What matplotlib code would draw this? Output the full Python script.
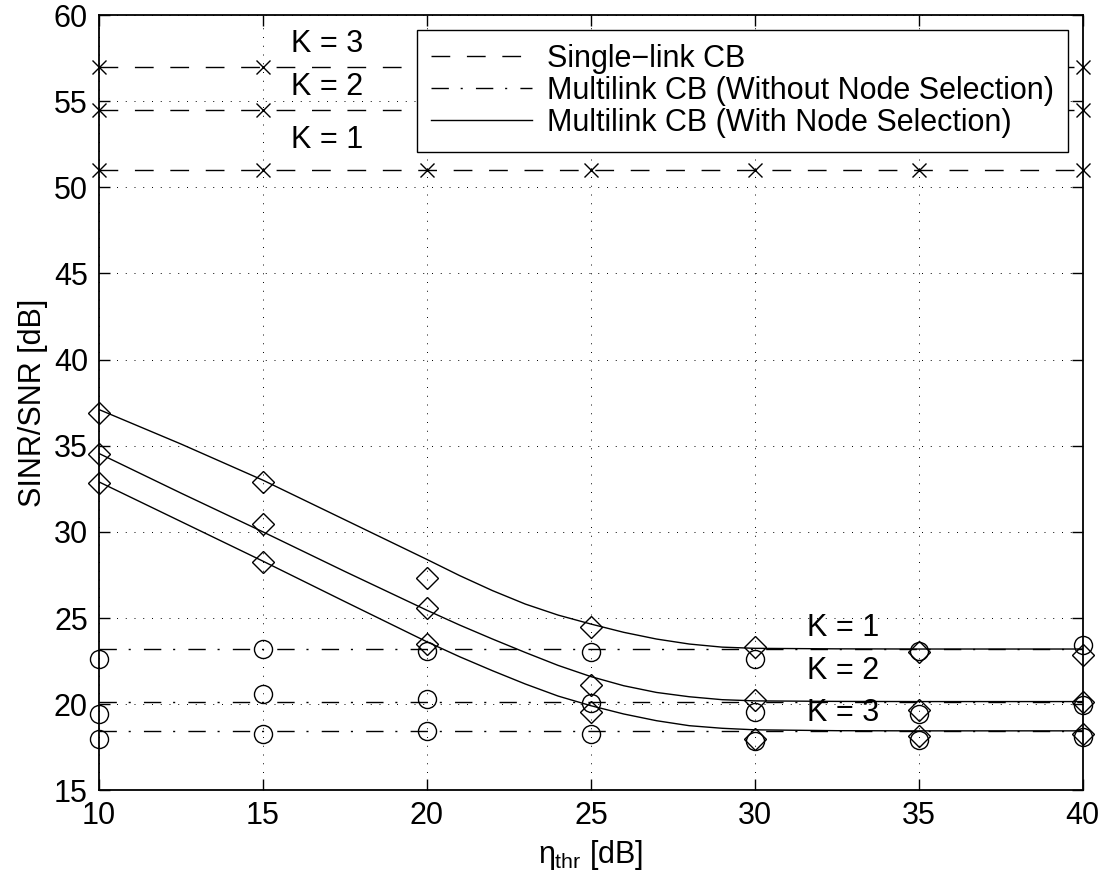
import matplotlib
matplotlib.use('Agg')
import matplotlib.pyplot as plt

plt.rcParams['font.family'] = ['Liberation Sans', 'DejaVu Sans']
plt.rcParams['mathtext.fontset'] = 'custom'
plt.rcParams['mathtext.rm'] = 'Liberation Sans'
plt.rcParams['mathtext.it'] = 'Liberation Sans'

# simulated threshold points [dB]
eta = [10, 15, 20, 25, 30, 35, 40]

# single-link CB level for K = 1, 2, 3
k_values = [1, 2, 3]
single_link = [51.0, 54.5, 57.0]

# multilink CB without node selection: analytic level and simulated points
no_sel_level = [23.2, 20.15, 18.45]
no_sel_sim_k1 = [22.65, 23.2, 23.08, 23.0, 22.6, 23.1, 23.45]
no_sel_sim_k2 = [19.45, 20.6, 20.3, 20.05, 19.55, 19.4, 19.95]
no_sel_sim_k3 = [18.0, 18.25, 18.42, 18.28, 17.85, 17.9, 18.1]

# multilink CB with node selection: analytic curve and simulated points
eta_curve = [10, 12.5, 15, 17.5, 20, 21, 22, 23, 24, 25, 26, 27, 28, 29, 30, 32.5, 35, 37.5, 40]
sel_curve_k1 = [37.1, 35.1, 33.0, 30.7, 28.4, 27.46, 26.59, 25.81, 25.17, 24.65, 24.17, 23.78, 23.49, 23.31, 23.24, 23.21, 23.2, 23.2, 23.2]
sel_curve_k2 = [34.55, 32.25, 30.0, 27.7, 25.45, 24.59, 23.78, 23.0, 22.25, 21.6, 21.07, 20.68, 20.43, 20.26, 20.19, 20.16, 20.15, 20.15, 20.15]
sel_curve_k3 = [32.9, 30.6, 28.3, 25.95, 23.62, 22.75, 21.94, 21.17, 20.47, 19.91, 19.43, 19.04, 18.75, 18.6, 18.51, 18.46, 18.45, 18.45, 18.45]
sel_sim_k1 = [36.9, 32.9, 27.3, 24.5, 23.3, 23.05, 22.85]
sel_sim_k2 = [34.5, 30.45, 25.6, 21.1, 20.25, 19.65, 20.1]
sel_sim_k3 = [32.85, 28.25, 23.5, 19.55, 18.0, 18.15, 18.25]

FS = 22
dashed = (0, (13.5, 12))
dashdot = (0, (12.5, 8.5, 1.5, 9.5))

fig = plt.figure(figsize=(11.06, 8.84), dpi=100)
ax = fig.add_axes([0.0895, 0.106, 0.8895, 0.877])

handles = []
for i, level in enumerate(single_link):
    h, = ax.plot([eta[0], eta[-1]], [level, level], color='k', lw=1.0, linestyle=dashed)
    ax.plot(eta, [level] * len(eta), linestyle='none', marker='x', ms=10, mew=1.0,
            color='k', clip_on=False)
handles.append(h)

for level in no_sel_level:
    h, = ax.plot([eta[0], eta[-1]], [level, level], color='k', lw=1.0, linestyle=dashdot)
handles.append(h)

for curve in [sel_curve_k1, sel_curve_k2, sel_curve_k3]:
    h, = ax.plot(eta_curve, curve, color='k', lw=1.0)
handles.append(h)

for sim in [no_sel_sim_k1, no_sel_sim_k2, no_sel_sim_k3]:
    ax.plot(eta, sim, linestyle='none', marker='o', ms=13, mfc='none', mec='k',
            mew=1.0, clip_on=False)
for sim in [sel_sim_k1, sel_sim_k2, sel_sim_k3]:
    ax.plot(eta, sim, linestyle='none', marker='D', ms=11, mfc='none', mec='k',
            mew=1.0, clip_on=False)

# K labels
for k, y in zip(k_values, [52.75, 55.8, 58.3]):
    ax.text(16.95, y, 'K = %d' % k, fontsize=FS, ha='center', va='center')
for k, y in zip(k_values, [24.4, 21.9, 19.5]):
    ax.text(32.7, y, 'K = %d' % k, fontsize=FS, ha='center', va='center')

ax.set_xlim(10, 40)
ax.set_ylim(15, 60)
ax.set_xticks(eta)
ax.set_yticks(range(15, 61, 5))
ax.grid(True, linestyle=(0, (1, 8)), color='k', lw=0.7)
ax.tick_params(direction='in', length=8, width=1, top=True, right=True,
               labelsize=FS, pad=8)
for sp in ax.spines.values():
    sp.set_linewidth(1.3)

ax.set_xlabel(r'$\eta_{\rm thr}$ [dB]', fontsize=FS, labelpad=5)
ax.set_ylabel('SINR/SNR [dB]', fontsize=FS)

leg = ax.legend(handles,
                ['Single\u2212link CB',
                 'Multilink CB (Without Node Selection)',
                 'Multilink CB (With Node Selection)'],
                loc='upper right', bbox_to_anchor=(0.985, 0.981), borderaxespad=0,
                fontsize=FS, fancybox=False, framealpha=1, edgecolor='k',
                handlelength=3.3, handletextpad=0.5, labelspacing=0.07,
                borderpad=0.45)
leg.get_frame().set_linewidth(1.0)

fig.savefig('out.png', dpi=100)
